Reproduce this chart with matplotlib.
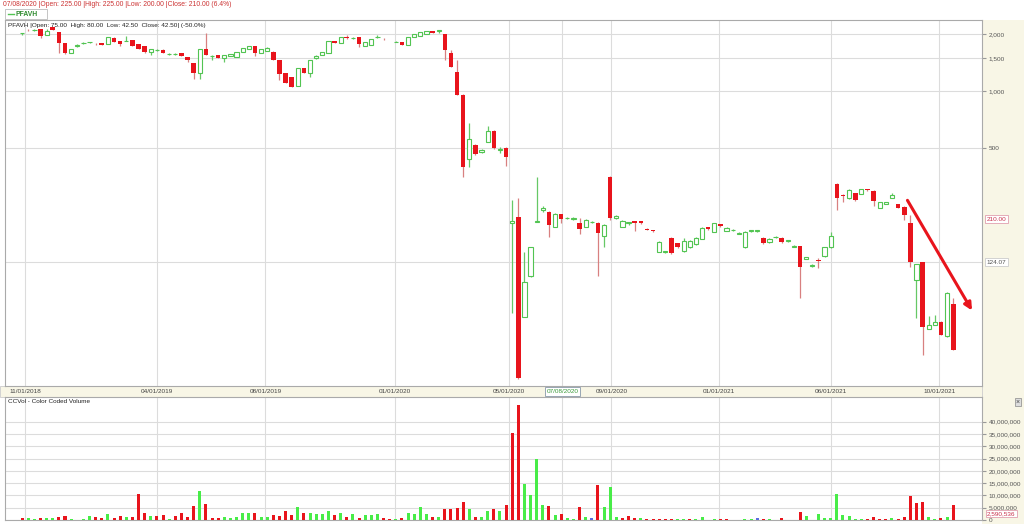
import numpy as np
import matplotlib.pyplot as plt
from matplotlib.patches import Rectangle
from matplotlib.lines import Line2D
from matplotlib.transforms import blended_transform_factory

plt.rcParams['font.family'] = ['Liberation Sans', 'DejaVu Sans']

# weekly candles PFAVH (open, high, low, close)
ohlc = [
    (2020, 2030, 1970, 2030), (2110, 2140, 2080, 2100), (2100, 2120, 2090, 2110), (2130, 2140, 1910, 1957),
    (1980, 2130, 1980, 2080), (2180, 2190, 2100, 2105), (2055, 2060, 1590, 1797), (1797, 1800, 1580, 1590),
    (1590, 1680, 1585, 1670), (1740, 1770, 1720, 1760), (1790, 1810, 1785, 1800), (1810, 1825, 1805, 1820),
    (1780, 1800, 1750, 1770), (1790, 1800, 1750, 1760), (1775, 1940, 1770, 1935), (1910, 1930, 1810, 1820),
    (1840, 1850, 1732, 1775), (1835, 1957, 1830, 1845), (1864, 1870, 1725, 1732), (1775, 1780, 1665, 1670),
    (1732, 1735, 1600, 1610), (1610, 1675, 1550, 1670), (1645, 1680, 1620, 1655), (1650, 1660, 1585, 1590),
    (1565, 1600, 1545, 1575), (1568, 1600, 1550, 1578), (1590, 1600, 1525, 1533), (1515, 1520, 1426, 1461),
    (1408, 1410, 1159, 1247), (1247, 1680, 1159, 1670), (1670, 2030, 1545, 1552), (1525, 1560, 1461, 1540),
    (1552, 1560, 1490, 1497), (1497, 1560, 1426, 1552), (1533, 1580, 1525, 1571), (1515, 1615, 1510, 1610),
    (1610, 1700, 1605, 1691), (1670, 1740, 1665, 1732), (1732, 1740, 1533, 1590), (1590, 1680, 1585, 1670),
    (1630, 1720, 1625, 1691), (1610, 1620, 1455, 1461), (1461, 1465, 1145, 1232), (1247, 1250, 1100, 1104),
    (1188, 1190, 1045, 1051), (1064, 1330, 1060, 1325), (1325, 1330, 1240, 1247), (1247, 1465, 1188, 1461),
    (1500, 1552, 1480, 1525), (1552, 1615, 1545, 1610), (1590, 1850, 1585, 1840), (1840, 1850, 1790, 1797),
    (1797, 1940, 1790, 1935), (1935, 1990, 1880, 1910), (1905, 1925, 1895, 1915), (1935, 1940, 1710, 1775),
    (1732, 1825, 1725, 1819), (1753, 1890, 1750, 1886), (1925, 1990, 1915, 1940), (1895, 1910, 1870, 1880),
    (1845, 1850, 1830, 1835), (1815, 1830, 1810, 1825), (1819, 1825, 1745, 1753), (1753, 1940, 1750, 1935),
    (1935, 2010, 1930, 2005), (1957, 2060, 1950, 2055), (2005, 2085, 2000, 2080), (2080, 2085, 2025, 2030),
    (2090, 2105, 2030, 2100), (2005, 2010, 1461, 1650), (1590, 1650, 1335, 1340), (1262, 1461, 950, 954),
    (954, 960, 351, 396), (437, 678, 396, 558), (518, 525, 460, 464), (475, 494, 470, 485),
    (538, 654, 535, 615), (615, 620, 495, 500), (488, 505, 470, 495), (500, 505, 401, 448),
    (200, 265, 67, 205), (216, 272, 30, 30.3), (63.8, 141, 63.5, 97.5), (105, 150, 104, 149),
    (203, 351, 202, 206), (236, 248, 230, 240), (229, 232, 169, 195), (191, 226, 190, 224),
    (225, 225, 200, 210), (212, 216, 210, 214), (211, 215, 209, 213), (200, 213, 175, 186),
    (191, 210, 190, 208), (202, 206, 200, 204), (200, 202, 105, 177), (171, 197, 149, 195),
    (351, 355, 208, 213), (214, 222, 210, 217), (191, 207, 190, 205), (201, 204, 195, 203),
    (205, 206, 182, 200), (205, 206, 199, 200), (187, 188, 184, 185), (183, 184, 180, 181),
    (141, 160, 140, 159), (140, 143, 139, 142), (167, 168, 138, 139), (157, 158, 148, 149),
    (142, 167, 141, 161), (149, 162, 148, 161), (155, 168, 154, 167), (165, 190, 164, 189),
    (191, 192, 185, 186), (180, 201, 179, 200), (198, 199, 192, 193), (182, 190, 181, 189),
    (183, 186, 182, 185), (176, 179, 175, 178), (149, 181, 148, 180), (181, 184, 180, 183),
    (181, 184, 180, 183), (167, 168, 156, 157), (159, 166, 158, 165), (168, 171, 167, 170),
    (167, 168, 158, 159), (160, 163, 159, 162), (150, 153, 149, 152), (151, 152, 80, 117),
    (130, 133, 129, 132), (118, 121, 117, 120), (128, 131, 116, 126), (134, 150, 133, 149),
    (149, 180, 148, 171), (322, 325, 235, 272), (283, 284, 259, 280), (272, 302, 270, 300),
    (289, 290, 263, 265), (285, 305, 284, 304), (302, 304, 296, 298), (297, 299, 247, 262),
    (241, 260, 240, 259), (253, 260, 252, 259), (272, 289, 271, 282), (253, 254, 240, 241),
    (244, 246, 208, 221), (200, 221, 117, 124), (100, 122, 63, 121), (124, 125, 40.2, 56.6),
    (55.3, 64.6, 55, 58), (58, 65.4, 57.5, 60), (60, 61, 51, 51.2), (50.6, 86, 50, 85.5),
    (75, 80, 42.5, 42.5),
]

# volume in millions and its colour code (r=down, g=up, b=unchanged)
vol_m = [
    1.0, 0.7, 0.5, 0.7, 1.0, 0.7, 1.1, 1.5, 0.3, 0.1,
    0.4, 1.6, 1.1, 0.8, 2.6, 0.7, 1.5, 1.4, 1.4, 10.7,
    3.0, 1.6, 1.6, 2.1, 0.4, 1.6, 3.0, 1.4, 5.8, 11.6,
    6.7, 1.0, 1.0, 1.2, 0.8, 1.4, 2.7, 3.0, 3.0, 1.4,
    1.4, 2.1, 1.8, 3.8, 2.2, 5.2, 2.7, 3.0, 2.5, 2.5,
    3.8, 2.1, 3.0, 1.2, 2.5, 0.8, 2.1, 2.1, 2.6, 0.8,
    0.4, 0.3, 0.7, 3.0, 2.5, 5.2, 2.3, 1.4, 1.4, 4.4,
    4.4, 4.8, 7.3, 4.4, 1.1, 1.4, 3.8, 4.4, 3.8, 6.2,
    35.2, 46.6, 14.7, 10.3, 24.7, 5.9, 5.8, 2.1, 2.5, 1.0,
    0.3, 5.3, 1.1, 1.0, 14.2, 5.1, 13.3, 1.4, 1.0, 1.6,
    0.7, 1.0, 0.5, 0.3, 0.3, 0.3, 0.3, 0.5, 0.5, 0.5,
    0.4, 1.4, 0.05, 0.5, 0.3, 0.3, 0.05, 0.05, 0.5, 0.3,
    0.7, 0.5, 0.3, 0.05, 0.8, 0.05, 0.05, 3.4, 1.8, 0.05,
    2.5, 0.7, 1.0, 10.5, 2.1, 1.5, 0.3, 0.3, 0.4, 1.4,
    0.4, 0.5, 0.7, 0.5, 1.4, 9.9, 6.8, 7.4, 1.1, 0.5,
    1.0, 1.4, 6.2,
]
vol_code = ("rggrggrrgg" "ggrrgrrgrr" "rgrrgrrrrg" "rrrgggggrg" "grrrrgrggg"
            "grgrgrgggr" "rgrggggrgr" "rrrgrggrgr" "rrggggrgrg" "grgbrgggrr"
            "rgrrrrrggr" "ggggrrgggg" "brggrggrgg" "ggggggggrr" "rrgrrrrrgg" "rgr")

date_labels = ["11/01/2018", "04/01/2019", "08/01/2019", "01/01/2020", "05/01/2020",
               "07/08/2020", "09/01/2020", "01/01/2021", "06/01/2021", "10/01/2021"]
date_pos = [0.5, 22.0, 39.7, 60.9, 79.4, 88.2, 96.2, 113.8, 132.1, 149.7]
price_ticks = [500, 1000, 1500, 2000]
vol_ticks = [0, 5, 10, 15, 20, 25, 30, 35, 40]

header = "07/08/2020 |Open: 225.00 |High: 225.00 |Low: 200.00 |Close: 210.00 (6.4%)"
info = "PFAVH |Open: 75.00  High: 80.00  Low: 42.50  Close: 42.50| (-50.0%)"

RED = '#e8141c'
GREEN = '#52c452'
VGREEN = '#48ec48'
CREAM = '#f8f6e6'
GRID = '#dcdcdc'

o = np.array([c[0] for c in ohlc])
h = np.array([c[1] for c in ohlc])
l = np.array([c[2] for c in ohlc])
c = np.array([c[3] for c in ohlc])
x = np.arange(len(o))
up = c >= o

fig = plt.figure(figsize=(10.24, 5.24), dpi=100)
fig.patch.set_facecolor('white')
fig.patches.append(Rectangle((982 / 1024, 0), 42 / 1024, 1 - 20 / 524, transform=fig.transFigure,
                             facecolor=CREAM, edgecolor='none', zorder=-5))
fig.patches.append(Rectangle((0, 1 - 397 / 524), 982 / 1024, 11 / 524, transform=fig.transFigure,
                             facecolor=CREAM, edgecolor='#cccccc', lw=0.6, zorder=-5))

ax = fig.add_axes([5 / 1024, 1 - 386 / 524, 977 / 1024, 366 / 524])
axv = fig.add_axes([5 / 1024, 1 - 520 / 524, 977 / 1024, 123 / 524])

# price panel
ax.set_yscale('log')
ax.vlines(x[up], l[up], h[up], color='#66c866', lw=0.9, zorder=2)
ax.vlines(x[~up], l[~up], h[~up], color='#d88080', lw=0.9, zorder=2)
bot = np.minimum(o, c)
hgt = np.maximum(np.abs(c - o), bot * 0.006)
ax.bar(x[up], hgt[up], bottom=bot[up], width=0.7, facecolor='white', edgecolor=GREEN, lw=0.8, zorder=3)
ax.bar(x[~up], hgt[~up], bottom=bot[~up], width=0.75, color=RED, lw=0, zorder=3)

ax.set_xlim(-2.8, 156.7)
ax.set_ylim(27.5, 2378)
ax.set_yticks(price_ticks)
ax.set_yticks([], minor=True)
ax.set_yticklabels([f"{t:,}" for t in price_ticks])
ax.yaxis.tick_right()
ax.tick_params(axis='y', length=3, color='#999999', labelcolor='#555555', labelsize=4.6, pad=2)
ax.set_xticks(date_pos)
ax.set_xticklabels(date_labels)
ax.tick_params(axis='x', length=0, labelsize=4.6, labelcolor='#444444', pad=2.2)
for lbl in ax.get_xticklabels():
    if lbl.get_text() == "07/08/2020":
        lbl.set_color('#3a9a3a')
        lbl.set_bbox(dict(boxstyle='square,pad=0.25', facecolor='white', edgecolor='#8899aa', lw=0.6))
ax.grid(True, color=GRID, lw=0.8, zorder=0)
ax.axhline(124.07, color=GRID, lw=0.8, zorder=0)
for s in ax.spines.values():
    s.set_color('#aaaaaa')
    s.set_linewidth(0.8)

tr = blended_transform_factory(ax.transAxes, ax.transData)
ax.text(1.005, 210, "210.00", transform=tr, fontsize=4.6, color='#c8304a', va='center', ha='left',
        bbox=dict(boxstyle='square,pad=0.25', facecolor='white', edgecolor='#e0a0b0', lw=0.6))
ax.text(1.005, 124.07, "124.07", transform=tr, fontsize=4.6, color='#555555', va='center', ha='left',
        bbox=dict(boxstyle='square,pad=0.25', facecolor='white', edgecolor='#cccccc', lw=0.6))
ax.text(0.003, 0.993, info, transform=ax.transAxes, fontsize=4.6, va='top', ha='left', color='#222222')

ax.annotate('', xy=(155.3, 67), xytext=(144.3, 272),
            arrowprops=dict(arrowstyle='-|>', color=RED, lw=2.2, mutation_scale=11))

# volume panel
cmap = {'r': RED, 'g': VGREEN, 'b': '#5a6ee0'}
axv.bar(x, vol_m, width=0.5, color=[cmap[k] for k in vol_code], lw=0, zorder=3)
axv.set_xlim(-2.8, 156.7)
axv.set_ylim(0, 50)
axv.set_yticks(vol_ticks)
axv.set_yticklabels([f"{t * 1000000:,}" for t in vol_ticks])
axv.yaxis.tick_right()
axv.tick_params(axis='y', length=3, color='#999999', labelcolor='#555555', labelsize=4.6, pad=2)
axv.set_xticks(date_pos)
axv.set_xticklabels([])
axv.tick_params(axis='x', length=0)
axv.grid(True, color=GRID, lw=0.8, zorder=0)
for s in axv.spines.values():
    s.set_color('#aaaaaa')
    s.set_linewidth(0.8)
trv = blended_transform_factory(axv.transAxes, axv.transData)
axv.text(1.005, 2.59, "2,590,536", transform=trv, fontsize=4.6, color='#c8304a', va='center', ha='left',
         bbox=dict(boxstyle='square,pad=0.2', facecolor='white', edgecolor='#e0a0b0', lw=0.6))
axv.text(0.003, 0.985, "CCVol - Color Coded Volume", transform=axv.transAxes, fontsize=4.6,
         va='top', ha='left', color='#222222')

# header and legend
fig.text(3 / 1024, 1 - 5 / 524, header, fontsize=4.9, color='#cc3333', va='center', ha='left')
fig.patches.append(Rectangle((5 / 1024, 1 - 19 / 524), 42 / 1024, 10 / 524, transform=fig.transFigure,
                             facecolor='white', edgecolor='#bbbbbb', lw=0.6))
fig.lines.append(Line2D([8 / 1024, 14 / 1024], [1 - 14 / 524] * 2, transform=fig.transFigure,
                        color=GREEN, lw=1))
fig.text(15 / 1024, 1 - 14 / 524, "PFAVH", fontsize=4.9, color='#2e8b2e', fontweight='bold',
         va='center', ha='left')
fig.text(1018 / 1024, 1 - 402 / 524, "×", fontsize=5, color='#444444', va='center', ha='center',
         bbox=dict(boxstyle='square,pad=0.1', facecolor='#dddddd', edgecolor='#888888', lw=0.5))

fig.savefig('out.png', dpi=100)
